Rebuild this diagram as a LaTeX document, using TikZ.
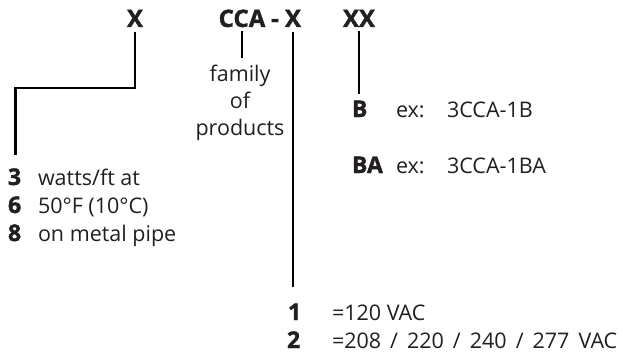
\documentclass[tikz,border=0pt]{standalone}
\usepackage{fontspec}
\setmainfont{Open Sans}
\newfontfamily\heavy{Open Sans}[FakeBold=1.5]
\definecolor{ink}{HTML}{231F20}
\begin{document}
\begin{tikzpicture}[x=1pt,y=-1pt,
  txt/.style={inner sep=0pt, outer sep=0pt, text=ink, font=\fontsize{21.5}{27}\selectfont, anchor=base west},
  head/.style={txt, font=\fontsize{24}{27}\selectfont\heavy\bfseries, anchor=base},
  key/.style={txt, font=\fontsize{23}{27}\selectfont\heavy\bfseries},
  conn/.style={draw=black, line width=2.4pt}]
\useasboundingbox (0,0) rectangle (623,356);
% headings
\node[head] (xa) at (135,27) {X};
\node[head] (cca) at (242,27) {CCA};
\node[head] (dash) at (275,27) {-};
\node[head] (xb) at (293,27) {X};
\node[head] (xx) at (359,27) {XX};
% family of products
\node[txt, anchor=base] (fam1) at (240,81) {family};
\node[txt, anchor=base] (fam2) at (240,108) {of};
\node[txt, anchor=base] (fam3) at (240,135) {products};
% left block
\node[key] (n3) at (8,185) {3};
\node[txt] (t3) at (38,185) {watts/ft at};
\node[key] (n6) at (8,213) {6};
\node[txt] (t6) at (38,213) {50°F (10°C)};
\node[key] (n8) at (8,241) {8};
\node[txt] (t8) at (38,241) {on metal pipe};
% right block
\node[key] (b) at (352,117) {B};
\node[txt] (exb) at (396,117) {ex:};
\node[txt] (exbv) at (447,117) {3CCA-1B};
\node[key] (ba) at (352,173) {BA};
\node[txt] (exba) at (396,173) {ex:};
\node[txt] (exbav) at (447,173) {3CCA-1BA};
% bottom block
\node[key] (n1) at (288,320) {1};
\node[txt] (v1) at (332,320) {=120 VAC};
\node[key] (n2) at (287,348) {2};
\node[txt] (v2) at (332,348) {\spaceskip=9pt =208 / 220 / 240 / 277 VAC};
% connectors
\coordinate (bend) at (15.5,88);
\draw[conn, shorten <=5pt] (xa.south) |- (bend) -- ([yshift=13pt]bend |- n3.north);
\draw[conn, shorten <=4pt, shorten >=7pt] (cca.south) -- (cca.south |- fam1.north);
\draw[conn, shorten <=5pt, shorten >=17pt] (xb.south) -- (xb.south |- n1.north);
\draw[conn, shorten <=4pt, shorten >=7pt] (xx.south) -- (xx.south |- b.north);
\end{tikzpicture}
\end{document}
